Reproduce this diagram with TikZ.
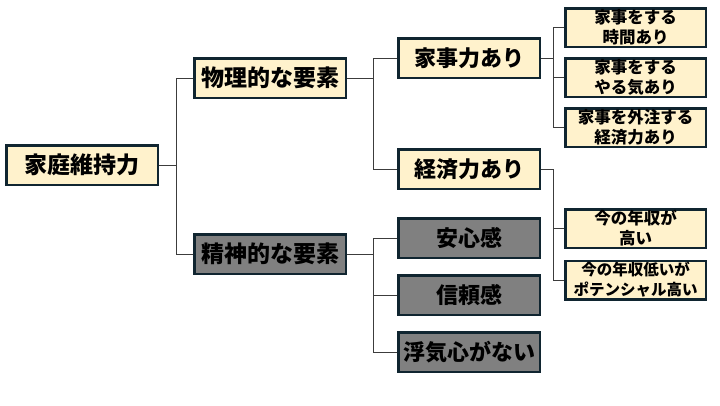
\documentclass[tikz,border=0pt]{standalone}
\usepackage{fontspec}
\newfontfamily\jpfont{Noto Sans CJK JP}[BoldFont={Noto Sans CJK JP Black}]
\usetikzlibrary{calc}
\definecolor{navy}{RGB}{16, 37, 48}
\definecolor{cream}{RGB}{255, 242, 204}
\definecolor{slate}{RGB}{128, 128, 128}
\definecolor{wire}{RGB}{60, 60, 60}

\tikzset{
  box/.style={draw=navy, line width=2.5pt, fill=cream, inner sep=0pt, align=center,
              font=\jpfont\bfseries\fontsize{23}{27}\selectfont},
  rootbox/.style={box, minimum width=151.5pt, minimum height=39.5pt},
  midbox/.style={box, minimum width=151.5pt, minimum height=39.5pt},
  subbox/.style={box, minimum width=141.5pt, minimum height=39.5pt,
                 font=\jpfont\bfseries\fontsize{22}{26}\selectfont},
  leafbox/.style={box, minimum width=140.5pt, minimum height=38.5pt,
                  font=\jpfont\bfseries\fontsize{16.5}{20}\selectfont},
  link/.style={draw=wire, line width=1pt}
}

\begin{document}
\begin{tikzpicture}[x=1pt, y=-1pt]
  \useasboundingbox (0,0) rectangle (720,405);
  % root and first level
  \node[rootbox] (root) at (82,165) {家庭維持力};
  \node[midbox] (phys) at (270,78) {物理的な要素};
  \node[midbox, fill=slate] (mind) at (270,254) {精神的な要素};
  % second level
  \node[subbox] (chore) at (469,58) {家事力あり};
  \node[subbox] (money) at (469,169) {経済力あり};
  \node[subbox, fill=slate] (relief) at (469,238) {安心感};
  \node[subbox, fill=slate] (trust) at (469,295) {信頼感};
  \node[subbox, fill=slate] (loyal) at (469,352) {浮気心がない};
  % leaves
  \node[leafbox] (time) at (635.5,27.5) {家事をする\\時間あり};
  \node[leafbox] (will) at (635.5,77.5) {家事をする\\やる気あり};
  \node[leafbox] (outsource) at (635.5,127.5) {家事を外注する\\経済力あり};
  \node[leafbox] (income) at (635.5,228.5) {今の年収が\\高い};
  \node[leafbox, font=\jpfont\bfseries\fontsize{15.5}{20}\selectfont] (potential) at (635.5,280) {今の年収低いが\\ポテンシャル高い};

  % connectors
  \coordinate (busA) at (176,0);
  \coordinate (busB) at (373,0);
  \coordinate (busC) at (553,0);
  \foreach \n in {phys,mind}
    \draw[link] (root.east) -- (root.east -| busA) |- (\n.west);
  \foreach \n in {chore,money}
    \draw[link] (phys.east) -- (phys.east -| busB) |- (\n.west);
  \foreach \n in {relief,trust,loyal}
    \draw[link] (mind.east) -- (mind.east -| busB) |- (\n.west);
  \foreach \n in {time,will,outsource}
    \draw[link] (chore.east) -- (chore.east -| busC) |- (\n.west);
  \foreach \n in {income,potential}
    \draw[link] (money.east) -- (money.east -| busC) |- (\n.west);
\end{tikzpicture}
\end{document}
